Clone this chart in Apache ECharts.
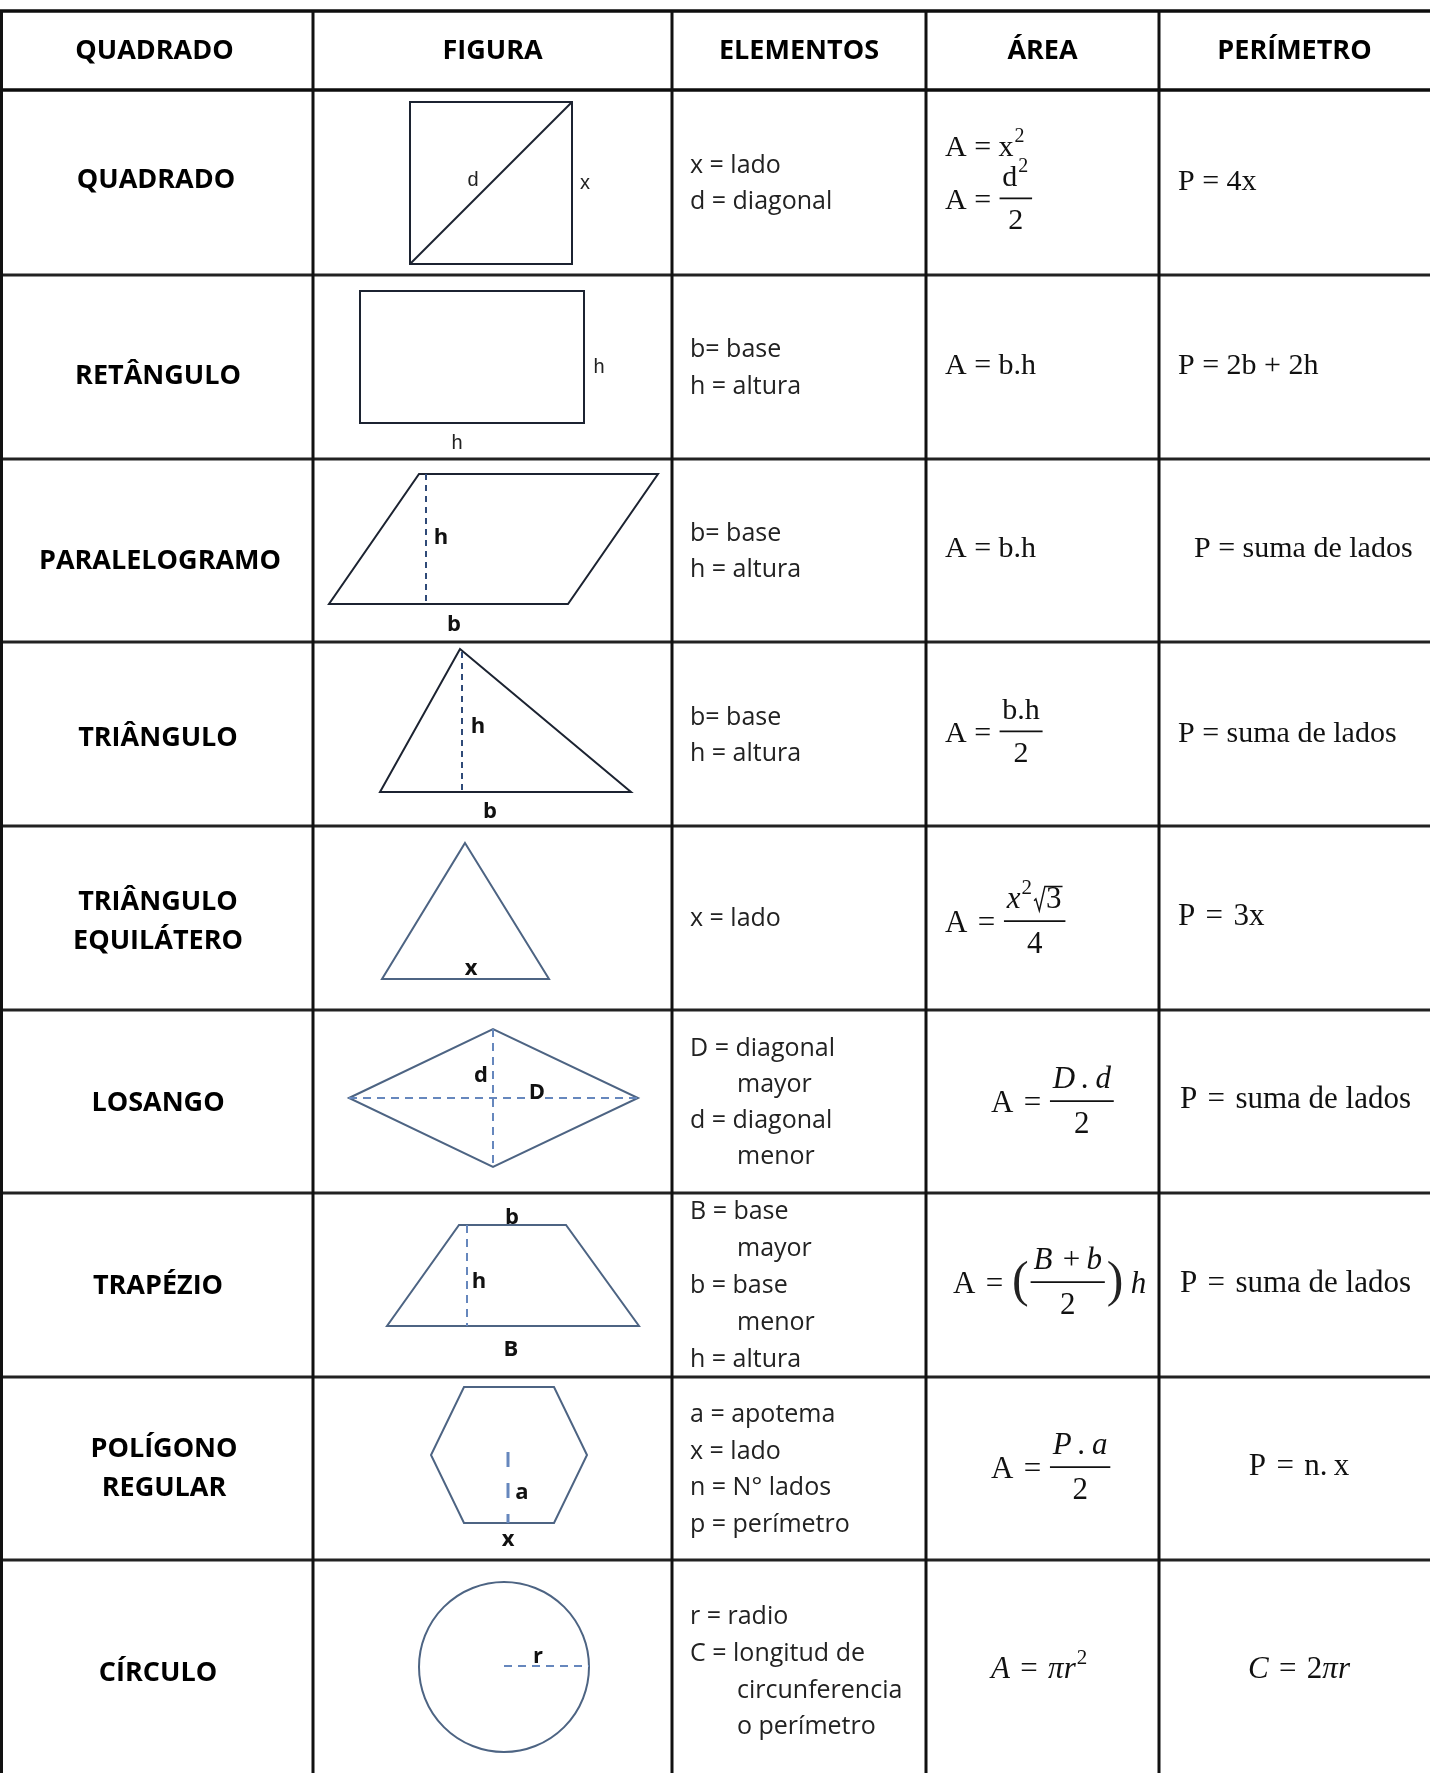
<!DOCTYPE html>
<html>
<head>
<meta charset="utf-8">
<script src="https://cdn.jsdelivr.net/npm/echarts@6/dist/echarts.min.js"></script>
<style>
  html, body { margin: 0; background: #fff; }
  #chart { width: 1430px; height: 1773px; }
</style>
</head>
<body>
<div id="chart"></div>
<script>
// ---- table content ----
const HEADERS = ['QUADRADO', 'FIGURA', 'ELEMENTOS', 'ÁREA', 'PERÍMETRO'];

const NAMES = [
  ['QUADRADO'], ['RETÂNGULO'], ['PARALELOGRAMO'], ['TRIÂNGULO'],
  ['TRIÂNGULO', 'EQUILÁTERO'], ['LOSANGO'], ['TRAPÉZIO'],
  ['POLÍGONO', 'REGULAR'], ['CÍRCULO']
];

// a leading ">" marks an indented continuation line
const ELEMENTS = [
  ['x = lado', 'd = diagonal'],
  ['b= base', 'h = altura'],
  ['b= base', 'h = altura'],
  ['b= base', 'h = altura'],
  ['x = lado'],
  ['D = diagonal', '>mayor', 'd = diagonal', '>menor'],
  ['B = base', '>mayor', 'b = base', '>menor', 'h = altura'],
  ['a = apotema', 'x = lado', 'n = N° lados', 'p = perímetro'],
  ['r = radio', 'C = longitud de', '>circunferencia', '>o perímetro']
];

// formula tokens: plain string, {i} italic, {sup}, {frac:[num, den]}, {paren}, {sqrt}
const S3 = '\u2004', TH = '\u2009';
const AREA = [
  [['A = x', { sup: '2' }], ['A = ', { frac: [['d', { sup: '2' }], ['2']] }]],
  [['A = b.h']],
  [['A = b.h']],
  [['A = ', { frac: [['b.h'], ['2']] }]],
  [['A' + S3 + '= ', { frac: [[{ i: 'x' }, { sup: '2' }, { sqrt: '3' }], ['4']] }]],
  [['A' + S3 + '= ', { frac: [[{ i: 'D' + TH + '.' + TH + 'd' }], ['2']] }]],
  [['A' + S3 + '= ', { paren: '(' }, { frac: [[{ i: 'B' }, S3 + '+' + TH, { i: 'b' }], ['2']] }, { paren: ')' }, TH, { i: 'h' }]],
  [['A' + S3 + '= ', { frac: [[{ i: 'P' + TH + '.' + TH + 'a' }], ['2']] }]],
  [[{ i: 'A' }, S3 + '=' + S3, { i: 'πr' }, { sup: '2' }]]
];

const PERIM = [
  ['P = 4x'],
  ['P = 2b + 2h'],
  ['P = suma de lados'],
  ['P = suma de lados'],
  ['P' + S3 + '=' + S3 + '3x'],
  ['P' + S3 + '=' + S3 + 'suma de lados'],
  ['P' + S3 + '=' + S3 + 'suma de lados'],
  ['P' + S3 + '=' + S3 + 'n.' + TH + 'x'],
  [{ i: 'C' }, S3 + '=' + S3 + '2', { i: 'πr' }]
];

// figure geometry
const FIG_POLY = [
  [[410, 102], [572, 102], [572, 264], [410, 264]],
  [[360, 291], [584, 291], [584, 423], [360, 423]],
  [[419, 474], [658, 474], [568, 604], [329, 604]],
  [[460, 649], [631, 792], [380, 792]],
  [[465, 843], [549, 979], [382, 979]],
  [[349, 1098], [493, 1029], [638, 1098], [493, 1167]],
  [[459, 1225], [566, 1225], [639, 1326], [387, 1326]],
  [[464, 1387], [554, 1387], [587, 1455], [554, 1523], [464, 1523], [431, 1455]],
  null
];
const CIRCLE = [504, 1667, 85];
const FIG_SOLID = [[[410, 264], [572, 102]]];
const FIG_DASH = [
  [], [],
  [[[426, 474], [426, 604]]],
  [[[462, 652], [462, 790]]],
  [],
  [[[349, 1098], [638, 1098]], [[493, 1029], [493, 1167]]],
  [[[467, 1225], [467, 1326]]],
  [[[508, 1452], [508, 1523]]],
  [[[504, 1666], [589, 1666]]]
];
const FIG_LABELS = [
  [['d', 473, 180], ['x', 585, 183]],
  [['h', 599, 367], ['h', 457, 443]],
  [['h', 441, 538], ['b', 454, 625]],
  [['h', 478, 727], ['b', 490, 812]],
  [['x', 471, 969]],
  [['d', 481, 1076], ['D', 537, 1093]],
  [['b', 512, 1218], ['h', 479, 1282], ['B', 511, 1350]],
  [['a', 522, 1493], ['x', 508, 1540]],
  [['r', 538, 1657]]
];

// ---- layout ----
const W = 1430, H = 1773;
const COLS = [0, 313, 672, 926, 1159, 1430];
const ROWS = [11, 90, 275, 459, 642, 826, 1010, 1193, 1377, 1560, 1773];
const NAME_Y = [180, 376, 561, 738, 922, 1103, 1286, 1469, 1673];
const NAME_X = [156, 158, 160, 158, 158, 158, 158, 164, 158];
const ELEM_Y0 = [166, 350, 534, 718, 919, 1049, 1212, 1415, 1617];
const ELEM_DY = [36, 37, 36, 36, 36, 36, 37, 36.5, 36.7];
const AREA_POS = [[945, [148, 201], 30], [945, [366], 30], [945, [549], 30], [945, [734], 30],
  [945, [924], 31], [991, [1104], 31], [953, [1285], 31], [991, [1470], 31], [991, [1670], 31]];
const PERIM_POS = [[1178, 182, 30], [1178, 366, 30], [1194, 549, 30], [1178, 734, 30],
  [1178, 917, 31], [1180, 1100, 31], [1180, 1284, 31], [1299, 1467, 31, 'center'], [1299, 1670, 31, 'center']];

const BOLD = 'bold 27px "Open Sans"';
const ELEM_FONT = '25px "Open Sans"';
const SERIF = '"Liberation Serif"';
const DARK = '#1c2331', BLUE = '#4d6483', DASH_DARK = '#2f4a78', DASH_BLUE = '#6687bd';

const MARKS = [];
const line = (x1, y1, x2, y2, w, c, dash) => MARKS.push({ k: 'line', p: [x1, y1, x2, y2], w, c, dash });
const text = (x, y, t, font, align, c) => MARKS.push({ k: 'text', p: [x, y], t, font, align: align || 'left', c: c || '#111' });

// table rules
ROWS.slice(0, -1).forEach((y, i) => line(0, y, W, y, i < 2 ? 3.5 : 3, i < 2 ? '#0d0d0d' : '#222'));
COLS.slice(0, -1).forEach(x => line(x === 0 ? 1.5 : x, ROWS[0], x === 0 ? 1.5 : x, H, 3, '#111'));

// headers
HEADERS.forEach((h, i) => text((COLS[i] + COLS[i + 1]) / 2 + (i === 0 ? -2 : 0), 51, h, BOLD, 'center', '#000'));

// names
NAMES.forEach((lines, r) => lines.forEach((t, j) =>
  text(NAME_X[r], NAME_Y[r] + (j - (lines.length - 1) / 2) * 39, t, BOLD, 'center', '#000')));

// elements
ELEMENTS.forEach((lines, r) => lines.forEach((t, j) => {
  const ind = t[0] === '>';
  text(ind ? 737 : 690, ELEM_Y0[r] + j * ELEM_DY[r], ind ? t.slice(1) : t, ELEM_FONT, 'left', '#222');
}));

// formula layout
const ctx = document.createElement('canvas').getContext('2d');
const fstr = (fs, it) => (it ? 'italic ' : '') + fs + 'px ' + SERIF;
const tw = (t, fs, it) => { ctx.font = fstr(fs, it); return ctx.measureText(t).width; };
const SUP = 0.68, PAREN = 1.6;
function tokW(tk, fs) {
  if (typeof tk === 'string') return tw(tk, fs);
  if (tk.i) return tw(tk.i, fs, true);
  if (tk.sup) return tw(tk.sup, Math.round(fs * SUP)) + 2;
  if (tk.sqrt) return tw(tk.sqrt, fs) + fs * 0.45;
  if (tk.frac) return Math.max(measure(tk.frac[0], fs), measure(tk.frac[1], fs)) + fs * 0.25;
  if (tk.paren) return tw(tk.paren, Math.round(fs * PAREN)) + 2;
  return 0;
}
function measure(tokens, fs) { return tokens.reduce((s, tk) => s + tokW(tk, fs), 0); }
function place(tokens, x, y, fs) {
  tokens.forEach(tk => {
    const w = tokW(tk, fs);
    if (typeof tk === 'string') text(x, y, tk, fstr(fs), 'left', '#111');
    else if (tk.i) text(x, y, tk.i, fstr(fs, true), 'left', '#111');
    else if (tk.sup) text(x + 1, y - fs * 0.38, tk.sup, fstr(Math.round(fs * SUP)), 'left', '#111');
    else if (tk.sqrt) {
      MARKS.push({ k: 'pline', w: 1.4, c: '#111', p: [[x + 1, y + fs * 0.02], [x + fs * 0.09, y - fs * 0.04],
        [x + fs * 0.2, y + fs * 0.34], [x + fs * 0.38, y - fs * 0.44], [x + w, y - fs * 0.44]] });
      text(x + fs * 0.42, y, tk.sqrt, fstr(fs), 'left', '#111');
    } else if (tk.frac) {
      const nw = measure(tk.frac[0], fs), dw = measure(tk.frac[1], fs), cx = x + w / 2;
      line(x + 1, y - fs * 0.09, x + w - 1, y - fs * 0.09, 1.7, '#111');
      place(tk.frac[0], cx - nw / 2, y - fs * 0.77, fs);
      place(tk.frac[1], cx - dw / 2, y + fs * 0.66, fs);
    } else if (tk.paren) text(x + 1, y - fs * 0.08, tk.paren, fstr(Math.round(fs * PAREN)), 'left', '#222');
    x += w;
  });
}
AREA.forEach((lines, r) => {
  const [x, ys, fs] = AREA_POS[r];
  lines.forEach((toks, j) => place(toks, x, ys[j], fs));
});
PERIM.forEach((toks, r) => {
  const [x, y, fs, al] = PERIM_POS[r];
  place(toks, al === 'center' ? x - measure(toks, fs) / 2 : x, y, fs);
});

// figures
FIG_POLY.forEach((pts, r) => {
  const c = r < 4 ? DARK : BLUE;
  if (pts) MARKS.push({ k: 'poly', p: pts, w: 2, c });
});
MARKS.push({ k: 'circle', p: CIRCLE, w: 2, c: BLUE });
FIG_SOLID.forEach(s => line(s[0][0], s[0][1], s[1][0], s[1][1], 2, DARK));
FIG_DASH.forEach((list, r) => list.forEach(s => {
  const hex = r === 7;
  line(s[0][0], s[0][1], s[1][0], s[1][1], hex ? 3 : 2, r < 4 ? DASH_DARK : DASH_BLUE,
    hex ? [15, 16] : (r < 4 ? [6, 5] : [8, 6]));
}));
FIG_LABELS.forEach((list, r) => list.forEach(([t, x, y]) =>
  text(x, y, t, r < 2 ? '20px "Liberation Sans"' : 'bold 22px "Open Sans"', 'center', r < 2 ? '#222' : '#111')));

// ---- chart ----
const chart = echarts.init(document.getElementById('chart'), null, { renderer: 'canvas' });
chart.setOption({
  animation: false,
  backgroundColor: '#fff',
  grid: { left: 0, right: 0, top: 0, bottom: 0 },
  xAxis: { type: 'value', min: 0, max: W, show: false },
  yAxis: { type: 'value', min: 0, max: H, inverse: true, show: false },
  series: [{
    type: 'custom',
    silent: true,
    clip: false,
    encode: { x: 0, y: 1 },
    data: MARKS.map(() => [0, 0]),
    renderItem(params, api) {
      const m = MARKS[params.dataIndex];
      const P = (x, y) => api.coord([x, y]);
      if (m.k === 'line') {
        const a = P(m.p[0], m.p[1]), b = P(m.p[2], m.p[3]);
        return { type: 'line', shape: { x1: a[0], y1: a[1], x2: b[0], y2: b[1] },
          style: { stroke: m.c, lineWidth: m.w, lineDash: m.dash || null, fill: 'none' } };
      }
      if (m.k === 'poly' || m.k === 'pline') {
        return { type: m.k === 'poly' ? 'polygon' : 'polyline', shape: { points: m.p.map(q => P(q[0], q[1])) },
          style: { stroke: m.c, lineWidth: m.w, fill: 'none', lineJoin: 'miter' } };
      }
      if (m.k === 'circle') {
        const c = P(m.p[0], m.p[1]), e = P(m.p[0] + m.p[2], m.p[1]);
        return { type: 'circle', shape: { cx: c[0], cy: c[1], r: e[0] - c[0] },
          style: { stroke: m.c, lineWidth: m.w, fill: 'none' } };
      }
      const a = P(m.p[0], m.p[1]);
      return { type: 'text', x: a[0], y: a[1],
        style: { text: m.t, font: m.font, fill: m.c, align: m.align, verticalAlign: 'middle' } };
    }
  }]
});
</script>
</body>
</html>
